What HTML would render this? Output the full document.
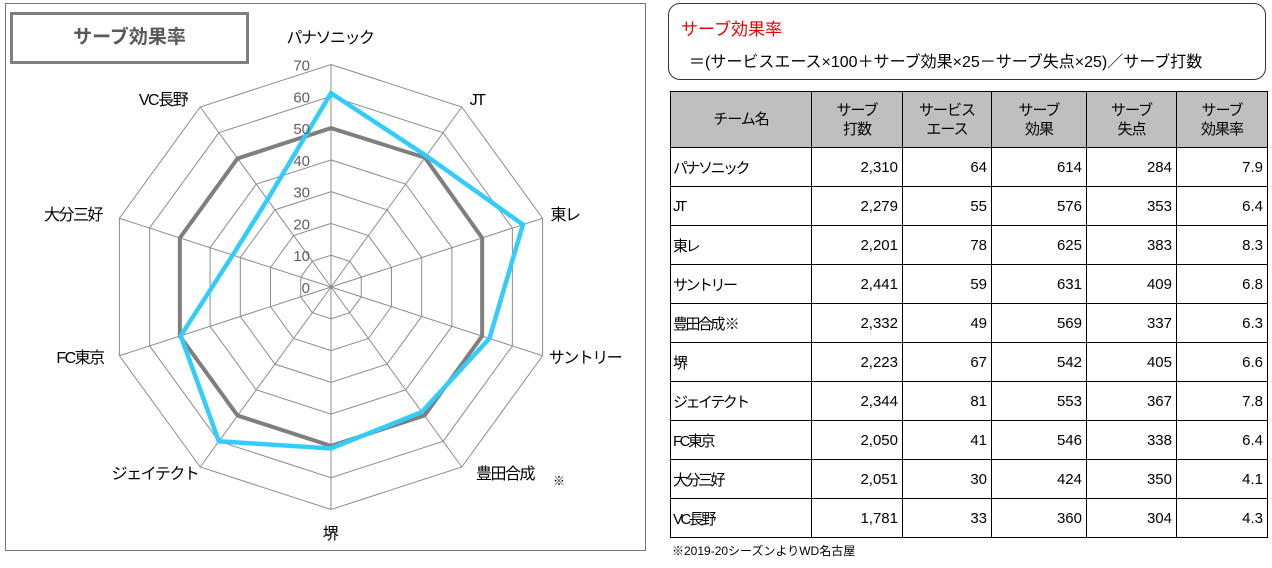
<!DOCTYPE html>
<html><head><meta charset="utf-8"><style>
body{margin:0;width:1272px;height:568px;background:#fff;font-family:"Liberation Sans","Noto Sans CJK JP",sans-serif;position:relative;overflow:hidden}
#chartbox{position:absolute;left:5px;top:3px;width:639px;height:546px;border:1px solid #777}
#titlebox{position:absolute;left:10px;top:12px;width:233px;height:46px;border:3px solid #7f7f7f;font-weight:bold;color:#595959;font-size:19px;line-height:46px;text-align:center}
#formula{position:absolute;left:668px;top:3px;width:598px;height:77px;border:1px solid #333;border-radius:12px;box-sizing:border-box}
table{position:absolute;left:670px;top:91px;border-collapse:collapse;font-size:15px}
td,th{border:1px solid #000;height:38px;padding:0 4px;text-align:right}
th{background:#bfbfbf;font-weight:normal;text-align:center;height:55px;line-height:19px;letter-spacing:-1px}
td:first-child{text-align:left;padding-left:2px;letter-spacing:-2.5px}
</style></head><body>
<div id="chartbox"></div>
<svg id="radar" width="650" height="560" style="position:absolute;left:0;top:0"></svg>
<div id="titlebox">サーブ効果率</div>
<div id="formula">
<div style="position:absolute;left:12px;top:11px;color:#e00;font-size:17px">サーブ効果率</div>
<div style="position:absolute;left:20px;top:44px;font-size:16px">＝(サービスエース×100＋サーブ効果×25－サーブ失点×25)／サーブ打数</div>
</div>
<table>
<tr><th style="width:132px">チーム名</th><th style="width:82px">サーブ<br>打数</th><th style="width:80px">サービス<br>エース</th><th style="width:86px">サーブ<br>効果</th><th style="width:81px">サーブ<br>失点</th><th style="width:82px">サーブ<br>効果率</th></tr>
<tr><td>パナソニック</td><td>2,310</td><td>64</td><td>614</td><td>284</td><td>7.9</td></tr>
<tr><td>JT</td><td>2,279</td><td>55</td><td>576</td><td>353</td><td>6.4</td></tr>
<tr><td>東レ</td><td>2,201</td><td>78</td><td>625</td><td>383</td><td>8.3</td></tr>
<tr><td>サントリー</td><td>2,441</td><td>59</td><td>631</td><td>409</td><td>6.8</td></tr>
<tr><td>豊田合成 ※</td><td>2,332</td><td>49</td><td>569</td><td>337</td><td>6.3</td></tr>
<tr><td>堺</td><td>2,223</td><td>67</td><td>542</td><td>405</td><td>6.6</td></tr>
<tr><td>ジェイテクト</td><td>2,344</td><td>81</td><td>553</td><td>367</td><td>7.8</td></tr>
<tr><td>FC東京</td><td>2,050</td><td>41</td><td>546</td><td>338</td><td>6.4</td></tr>
<tr><td>大分三好</td><td>2,051</td><td>30</td><td>424</td><td>350</td><td>4.1</td></tr>
<tr><td>VC長野</td><td>1,781</td><td>33</td><td>360</td><td>304</td><td>4.3</td></tr>
</table>
<div style="position:absolute;left:672px;top:542px;font-size:12px">※2019-20シーズンよりWD名古屋</div>
<script>
const categories=["パナソニック","JT","東レ","サントリー","豊田合成","堺","ジェイテクト","FC東京","大分三好","VC長野"];
const blueValues=[61,51,63.5,52.4,48.6,50.8,60,49.7,32.5,34];
const grayValues=[50,50.3,50,50,50,50,50,50,50,50];
const tickLabels=[0,10,20,30,40,50,60,70];
const labelPos=[[330,37],[477,99],[565,214],[585,357],[505,473],[330,533],[155,473],[80,357],[73,214],[163,99]];
const cx=331,cy=287,maxV=70,R=222.5;
const svg=document.getElementById('radar');const NS="http://www.w3.org/2000/svg";
function pt(i,v){const a=i*2*Math.PI/categories.length;const r=v/maxV*R;return [cx+r*Math.sin(a),cy-r*Math.cos(a)];}
function mk(t,attrs){const e=document.createElementNS(NS,t);for(const k in attrs)e.setAttribute(k,attrs[k]);svg.appendChild(e);return e;}
tickLabels.forEach(t=>{if(t===0)return;const p=categories.map((c,i)=>pt(i,t).join(',')).join(' ');
const g=mk('polygon',{points:p,fill:'none',stroke:'#8c8c8c','stroke-width':1});

});
categories.forEach((c,i)=>{const [x,y]=pt(i,maxV);const l=mk('line',{x1:cx,y1:cy,x2:x,y2:y,stroke:'#8c8c8c','stroke-width':1});

});
function series(vals,color,name,w){const p=vals.map((v,i)=>pt(i,v).join(',')).join(' ');
const e=mk('polygon',{points:p,fill:'none',stroke:color,'stroke-width':w,'stroke-linejoin':'miter'});

}
series(grayValues,'#7f7f7f','series-gray',4);
series(blueValues,'#33ccff','series-blue',4.5);
tickLabels.forEach(t=>{const y=cy-t/maxV*R;const e=mk('text',{x:310,y:y+6,'text-anchor':'end','font-size':15,fill:'#6b5a5a'});e.textContent=t;

});
categories.forEach((c,i)=>{const [x,y]=labelPos[i];const e=mk('text',{x:x,y:y+6,'text-anchor':'middle','font-size':16,'letter-spacing':'-1.5',fill:'#000'});e.textContent=c;

});
const n=mk('text',{x:553,y:485,'font-size':12,fill:'#000'});n.textContent='※';


</script>
</body></html>
